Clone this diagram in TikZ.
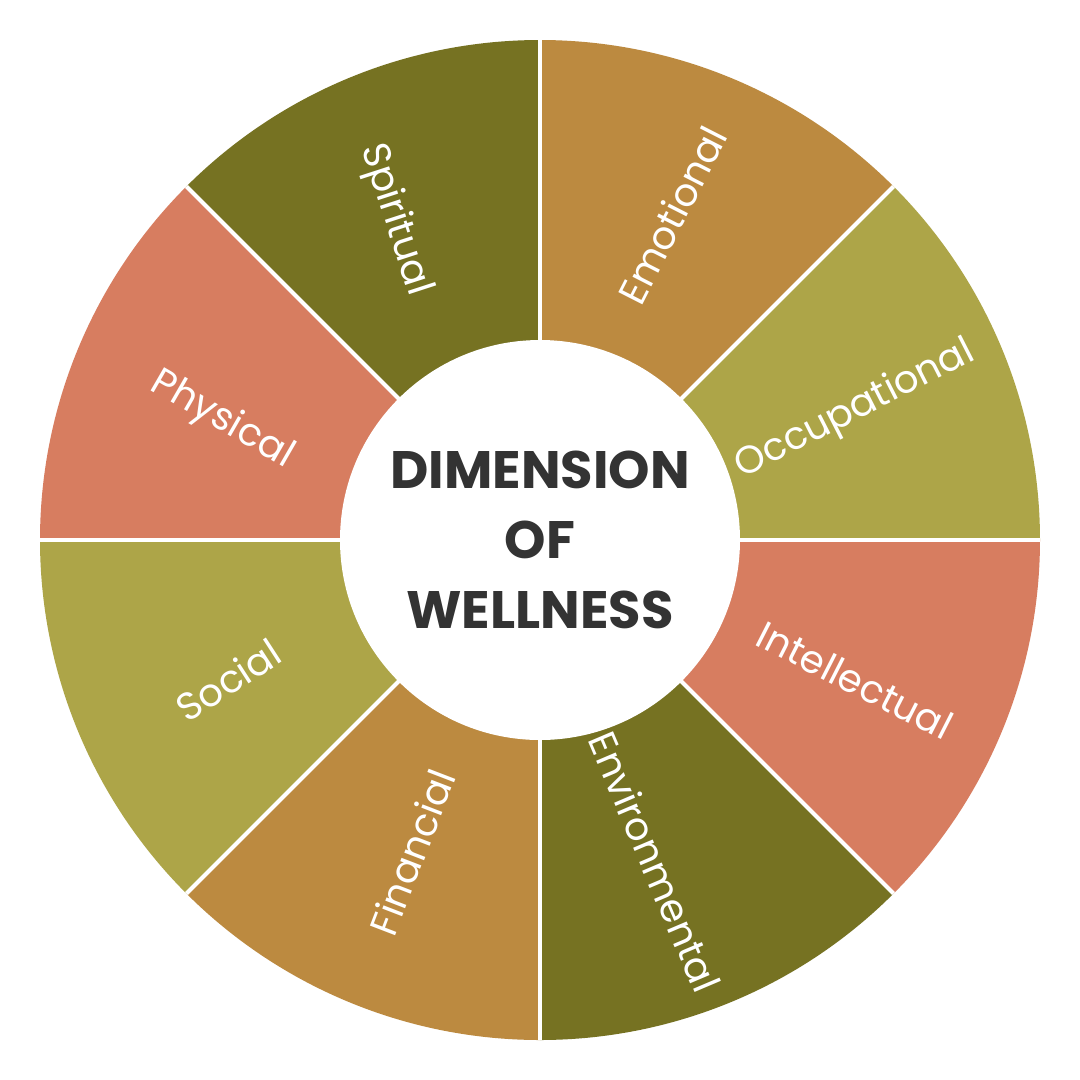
\documentclass[tikz,border=0pt]{standalone}
\usepackage{fontspec}
\setmainfont{Poppins}
\definecolor{dk}{HTML}{767222}
\definecolor{br}{HTML}{BC8A40}
\definecolor{lt}{HTML}{ADA548}
\definecolor{sa}{HTML}{D77D60}
\begin{document}
\begin{tikzpicture}[x=0.02cm,y=-0.02cm,
  lab/.style={text=white,font=\fontsize{22}{26}\selectfont},
  ctr/.style={text=black!80,font=\fontsize{30}{40}\selectfont\bfseries,align=center}]
\useasboundingbox[fill=white] (0,0) rectangle (1080,1080);
\coordinate (c) at (540,540);
\foreach \a/\col in {-45/br,0/lt,45/sa,90/dk,135/br,180/lt,-135/sa,-90/dk}{
  \fill[\col] (c) -- ++(\a:500) arc[start angle=\a,delta angle=-45,radius=500] -- cycle;
}
\foreach \a in {0,45,...,315}{
  \draw[white,line width=2.4pt] (c) -- ++(\a:500);
}
\fill[white] (c) circle[radius=200];
\node[ctr] (t) at (c) {DIMENSION\\OF\\WELLNESS};
\node[lab,rotate=-72] (s1) at (395,220) {Spiritual};
\node[lab,rotate=63] (s2) at (672,215) {Emotional};
\node[lab,rotate=27] (s3) at (855,410) {Occupational};
\node[lab,rotate=-27] (s4) at (855,680) {Intellectual};
\node[lab,rotate=-67] (s5) at (655,862) {Environmental};
\node[lab,rotate=69] (s6) at (412,852) {Financial};
\node[lab,rotate=33] (s7) at (228,680) {Social};
\node[lab,rotate=-30] (s8) at (222,420) {Physical};
\end{tikzpicture}
\end{document}
